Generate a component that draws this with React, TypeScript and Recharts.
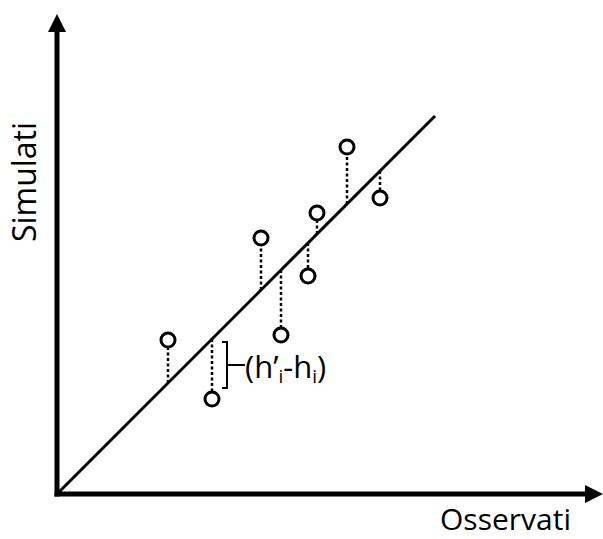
import { ComposedChart, XAxis, YAxis, Scatter, ReferenceLine } from 'recharts'

const observed = [111, 155, 204, 224, 251, 260, 290, 323]
const simulated = [154, 95, 256, 159, 218, 281, 347, 296]

// 1:1 fit line and axis extents
const fitEnd = 378
const xMax = 546
const yMax = 480

// bracket marking the residual of the second point
const bracketX = 170
const bracketLow = 106
const bracketHigh = 152

const FONT = '"Open Sans", sans-serif'
const markerR = 7

const points = observed.map((x, i) => ({ x, y: simulated[i] }))

function ArrowAxis(props: any) {
  const { x1, y1, x2, y2 } = props
  const dx = x2 - x1
  const dy = y2 - y1
  const len = Math.hypot(dx, dy)
  const ux = dx / len
  const uy = dy / len
  const head = 18
  const half = 9
  const bx = x2 - ux * head
  const by = y2 - uy * head
  return (
    <g>
      <line
        x1={x1 - ux * 2.5}
        y1={y1 - uy * 2.5}
        x2={bx + ux * 1}
        y2={by + uy * 1}
        stroke="#000"
        strokeWidth={5}
      />
      <polygon
        points={`${x2},${y2} ${bx - uy * half},${by + ux * half} ${bx + uy * half},${by - ux * half}`}
        fill="#000"
      />
    </g>
  )
}

function Bracket(props: any) {
  const { x1, y1, y2 } = props
  const top = Math.min(y1, y2)
  const bottom = Math.max(y1, y2)
  const mid = (top + bottom) / 2
  return (
    <g>
      <path
        d={`M${x1 - 5},${top} H${x1} V${bottom} H${x1 - 5} M${x1},${mid} H${x1 + 18}`}
        fill="none"
        stroke="#000"
        strokeWidth={2}
      />
      <text x={x1 + 18} y={mid + 13} fontSize={31} fontFamily={FONT} fill="#000">
        (h’<tspan fontSize={19} dy={5}>i</tspan>
        <tspan dy={-5}>-h</tspan>
        <tspan fontSize={19} dy={5}>i</tspan>
        <tspan dy={-5}>)</tspan>
      </text>
    </g>
  )
}

function Circle(props: any) {
  return (
    <circle cx={props.cx} cy={props.cy} r={markerR} fill="#fff" stroke="#000" strokeWidth={3} />
  )
}

export default function App() {
  return (
    <div style={{ position: 'absolute', left: 0, top: 0, width: 603, height: 539, background: '#fff' }}>
      <ComposedChart width={603} height={539} margin={{ top: 14, right: 0, left: 0, bottom: 0 }}>
        <XAxis
          type="number"
          dataKey="x"
          domain={[0, xMax]}
          allowDataOverflow
          tick={false}
          tickLine={false}
          axisLine={false}
          height={45}
          label={{
            content: (p: any) => (
              <text
                x={p.viewBox.x + p.viewBox.width - 32}
                y={p.viewBox.y + 36}
                textAnchor="end"
                fontSize={30}
                fontFamily={FONT}
                fill="#000"
              >
                Osservati
              </text>
            ),
          }}
        />
        <YAxis
          type="number"
          dataKey="y"
          domain={[0, yMax]}
          allowDataOverflow
          tick={false}
          tickLine={false}
          axisLine={false}
          width={57}
          label={{
            content: (p: any) => {
              const cx = p.viewBox.x + 36
              const cy = p.viewBox.y + 168
              return (
                <text
                  x={cx}
                  y={cy}
                  transform={`rotate(-90 ${cx} ${cy})`}
                  textAnchor="middle"
                  fontSize={32}
                  fontFamily={FONT}
                  fill="#000"
                >
                  Simulati
                </text>
              )
            },
          }}
        />
        <ReferenceLine segment={[{ x: 0, y: 0 }, { x: 0, y: yMax }]} shape={ArrowAxis} />
        <ReferenceLine segment={[{ x: 0, y: 0 }, { x: xMax, y: 0 }]} shape={ArrowAxis} />
        <ReferenceLine
          segment={[{ x: 0, y: 0 }, { x: fitEnd, y: fitEnd }]}
          stroke="#000"
          strokeWidth={3}
        />
        {points.map((p, i) => (
          <ReferenceLine
            key={i}
            segment={[
              { x: p.x, y: p.x },
              { x: p.x, y: p.y > p.x ? p.y - markerR : p.y + markerR },
            ]}
            stroke="#000"
            strokeWidth={2.5}
            strokeDasharray="3 2.5"
          />
        ))}
        <ReferenceLine
          segment={[{ x: bracketX, y: bracketLow }, { x: bracketX, y: bracketHigh }]}
          shape={Bracket}
        />
        <Scatter data={points} dataKey="y" isAnimationActive={false} shape={Circle} />
      </ComposedChart>
    </div>
  )
}
